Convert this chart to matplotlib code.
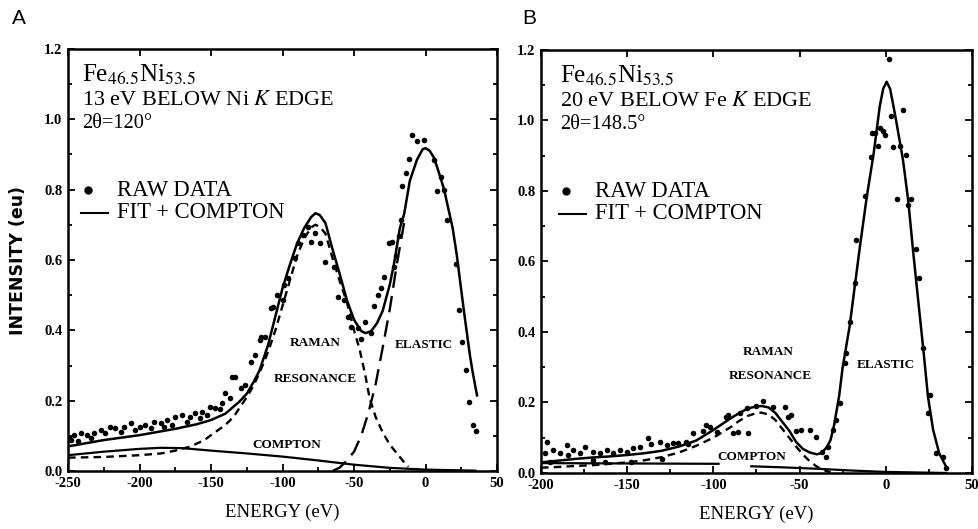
import numpy as np
import matplotlib
matplotlib.use("Agg")
from matplotlib import pyplot as plt
from matplotlib.ticker import MultipleLocator

plt.rcParams['font.family'] = ['Liberation Serif', 'DejaVu Serif']
plt.rcParams['mathtext.fontset'] = 'stix'

# ---- panel A : 13 eV below Ni K edge ----
a_raw_x = [-249, -248, -246, -243, -241, -237, -234, -232, -227, -224, -221, -217,
           -213, -211, -206, -203, -200, -196, -192, -190, -185, -183, -181, -177,
           -175, -170, -167, -165, -161, -158, -156, -153, -151, -147, -144, -142,
           -140, -137, -135, -133, -129, -126, -122, -119, -116, -115, -112, -108,
           -107, -104, -100, -99, -96, -91, -89, -86, -82, -80, -77, -74, -70, -64,
           -61, -57, -54, -52, -47, -45, -42, -38, -36, -33, -31, -29, -25.5, -23.2,
           -22, -20.8, -18.5, -17.3, -16.2, -13.8, -11.5, -9.2, -5.7, -1, 5.9, 8.3,
           10.6, 12.9, 15.2, 21.1, 23.4, 25.8, 28.1, 30.4, 33.2, 35.5]
a_raw_y = [0.098, 0.088, 0.102, 0.085, 0.107, 0.102, 0.095, 0.107, 0.117, 0.108, 0.126, 0.121,
           0.112, 0.126, 0.136, 0.118, 0.126, 0.131, 0.122, 0.140, 0.136, 0.126, 0.145, 0.132,
           0.155, 0.159, 0.140, 0.155, 0.164, 0.150, 0.169, 0.160, 0.183, 0.178, 0.175, 0.193,
           0.221, 0.207, 0.268, 0.268, 0.235, 0.245, 0.311, 0.330, 0.373, 0.382, 0.382, 0.463,
           0.467, 0.500, 0.486, 0.529, 0.548, 0.605, 0.648, 0.671, 0.693, 0.650, 0.676, 0.648, 0.595, 0.581,
           0.496, 0.486, 0.439, 0.410, 0.406, 0.375, 0.425, 0.392, 0.470, 0.500, 0.520, 0.553, 0.648, 0.652,
           0.581, 0.610, 0.667, 0.714, 0.810, 0.847, 0.887, 0.956, 0.937, 0.940, 0.885, 0.795,
           0.837, 0.800, 0.714, 0.590, 0.458, 0.368, 0.287, 0.197, 0.131, 0.115]

a_fit_x = [-250, -225, -200, -175, -160, -150, -140, -130, -125, -120, -116, -110, -105,
           -100, -95, -90, -85, -80, -77, -74, -70, -65, -60, -55, -50, -45, -42, -38,
           -34, -30, -25, -22, -18, -15, -11, -6, -2, 0, 3, 6, 10, 13, 16, 19, 22, 24,
           27, 29, 31, 33, 36]
a_fit_y = [0.070, 0.088, 0.102, 0.120, 0.133, 0.145, 0.163, 0.198, 0.220, 0.255, 0.287, 0.360, 0.440,
           0.520, 0.585, 0.645, 0.690, 0.722, 0.733, 0.728, 0.705, 0.630, 0.560, 0.486, 0.430, 0.398, 0.392, 0.398,
           0.420, 0.455, 0.530, 0.590, 0.690, 0.730, 0.825, 0.885, 0.915, 0.918, 0.910, 0.890, 0.840, 0.800, 0.745, 0.690, 0.610, 0.545,
           0.450, 0.390, 0.330, 0.280, 0.215]

a_raman_x = [-250, -225, -200, -185, -175, -165, -155, -150, -140, -134, -130, -125, -120,
             -115, -110, -105, -100, -95, -90, -85, -80, -77, -74, -70, -65, -60, -55, -50,
             -46, -42, -39, -35, -30, -25, -20, -15, -12]
a_raman_y = [0.038, 0.040, 0.045, 0.050, 0.058, 0.069, 0.087, 0.102, 0.131, 0.155, 0.180, 0.210, 0.245,
             0.290, 0.340, 0.400, 0.470, 0.540, 0.610, 0.660, 0.693, 0.700, 0.695, 0.675, 0.605, 0.540, 0.480, 0.400,
             0.344, 0.270, 0.205, 0.155, 0.110, 0.075, 0.050, 0.025, 0.012]

a_elastic_x = [-65, -60, -55, -50, -45, -40, -35, -30, -25, -20, -15]
a_elastic_y = [0.0, 0.010, 0.030, 0.055, 0.100, 0.165, 0.245, 0.350, 0.460, 0.590, 0.705]

a_compton_x = [-250, -225, -200, -185, -170, -150, -125, -100, -75, -50, -25, 0, 35]
a_compton_y = [0.045, 0.055, 0.063, 0.066, 0.065, 0.058, 0.050, 0.041, 0.030, 0.018, 0.009, 0.004, 0.001]

# ---- panel B : 20 eV below Fe K edge ----
b_raw_x = [-197.7, -196.7, -195, -192.9, -189, -185.1, -184.2, -181.3, -177.4, -174.5, -170,
           -169.6, -165.8, -162.8, -161.9, -158, -154.2, -150.3, -148, -146.4, -142.6, -137.8,
           -135.9, -131, -130, -127.1, -123.3, -120.4, -115.6, -114.6, -111.7, -106, -104, -102,
           -98.1, -92.4, -91.4, -88.5, -85.6, -84.6, -80.7, -79.8, -75, -71, -65.3, -58.6, -56.6,
           -54.7, -52, -48.9, -44, -40.2, -37, -34.4, -33.4, -30.5, -28.6, -26.7, -23.8, -22.8,
           -20.9, -18, -17, -12.2, -8.3, -8.0, -6.4, -4.5, -3.5, -1.6, -0.6, 1.7, 3.3, 4.2, 6.6,
           8.1, 10, 12, 13, 14.9, 17.4, 19.3, 21.6, 24.5, 25.5, 29.4, 33.2, 35.2]
b_raw_y = [0.056, 0.089, 0.030, 0.065, 0.056, 0.079, 0.051, 0.065, 0.056, 0.073, 0.037,
           0.060, 0.056, 0.032, 0.065, 0.056, 0.065, 0.060, 0.030, 0.070, 0.075, 0.100,
           0.083, 0.089, 0.039, 0.079, 0.084, 0.086, 0.089, 0.083, 0.113, 0.118, 0.136, 0.131,
           0.117, 0.160, 0.165, 0.113, 0.117, 0.169, 0.184, 0.113, 0.190, 0.204, 0.188, 0.188, 0.160,
           0.165, 0.120, 0.122, 0.122, 0.103, 0.060, 0.046, 0.075, 0.122, 0.150, 0.198, 0.311, 0.340,
           0.429, 0.540, 0.661, 0.786, 0.897, 0.965, 0.964, 0.928, 0.978, 0.971, 0.959, 1.174, 1.013, 0.926, 0.776,
           0.928, 1.030, 0.902, 0.760, 0.776, 0.636, 0.554, 0.354, 0.169, 0.221, 0.056, 0.046, 0.013]

b_fit_x = [-200, -190, -180, -170, -160, -150, -140, -130, -120, -110, -100, -90, -85, -80,
           -75, -72, -68, -64, -60, -56, -52, -48, -44, -40, -37, -34, -32, -30, -27, -25,
           -21, -18, -15, -11, -7, -3.5, -1.5, 0.5, 2.5, 4.5, 6, 10, 13, 16, 19, 22, 24.5,
           27.5, 31, 35]
b_fit_y = [0.030, 0.035, 0.040, 0.044, 0.047, 0.051, 0.056, 0.063, 0.075, 0.092, 0.122, 0.155, 0.170, 0.183,
           0.189, 0.190, 0.186, 0.170, 0.145, 0.120, 0.088, 0.068, 0.058, 0.053, 0.057, 0.075, 0.094, 0.135, 0.220, 0.300,
           0.415, 0.529, 0.642, 0.784, 0.907, 1.040, 1.090, 1.110, 1.090, 1.040, 1.000, 0.888, 0.774, 0.623, 0.481, 0.340, 0.216,
           0.122, 0.056, 0.018]

b_raman_x = [-200, -190, -180, -170, -160, -150, -140, -130, -120, -110, -100, -90, -85, -80,
             -75, -72, -68, -64, -60, -56, -52, -48, -44, -40, -36, -32]
b_raman_y = [0.015, 0.017, 0.020, 0.022, 0.026, 0.030, 0.036, 0.045, 0.058, 0.077, 0.100, 0.130, 0.148, 0.162,
             0.170, 0.171, 0.166, 0.150, 0.125, 0.100, 0.075, 0.052, 0.033, 0.018, 0.008, 0.002]

b_compton_x = [-200, -150, -97, -90, -78, -60, -40, -20, 0, 35]
b_compton_y = [0.028, 0.027, 0.026, np.nan, 0.019, 0.016, 0.012, 0.007, 0.003, 0.0]

tickfont = dict(family='Liberation Serif', weight='bold', size=10.5)
lblfont = dict(family='Liberation Serif', weight='bold', size=9.5)


def style_axes(ax, xmin, xmax):
    ax.set_xlim(xmin, xmax)
    ax.set_ylim(0, 1.2)
    ax.xaxis.set_minor_locator(MultipleLocator(25))
    ax.yaxis.set_minor_locator(MultipleLocator(0.1))
    ax.tick_params(which='both', direction='in', top=True, right=True, width=1.3)
    ax.tick_params(which='major', length=5, pad=4)
    ax.tick_params(which='minor', length=3, top=False)
    yt = np.arange(0, 1.21, 0.2)
    ax.set_yticks(yt)
    ax.set_yticklabels(['%.1f' % v for v in yt], **tickfont)
    xt = np.arange(xmin, xmax + 1, 50)
    ax.set_xticks(xt)
    ax.set_xticklabels(['%d' % v for v in xt], **tickfont)
    for s in ax.spines.values():
        s.set_linewidth(1.8)
    ax.set_xlabel('ENERGY (eV)', fontsize=13.5, family='Liberation Serif', labelpad=10)


def header(ax, formula, line1, line2, lx, dx):
    ax.text(lx, 0.922, formula, transform=ax.transAxes, fontsize=18, va='baseline')
    ax.text(lx, 0.867, line1, transform=ax.transAxes, fontsize=16, va='baseline')
    ax.text(lx, 0.813, line2, transform=ax.transAxes, fontsize=14.7, va='baseline')
    # hand-made legend
    ax.plot([lx + 0.014], [0.666], 'o', color='k', ms=5, transform=ax.transAxes)
    ax.text(lx + dx, 0.652, 'RAW DATA', transform=ax.transAxes, fontsize=16.3, va='baseline')
    ax.plot([lx - 0.003, lx + 0.060], [0.612, 0.612], '-', color='k', lw=1.5,
            transform=ax.transAxes)
    ax.text(lx + dx, 0.600, 'FIT + COMPTON', transform=ax.transAxes, fontsize=16.3, va='baseline')


fig = plt.figure(figsize=(9.79, 5.29), dpi=100)
axA = fig.add_axes([0.0695, 0.1096, 0.4382, 0.7978])
axB = fig.add_axes([0.5526, 0.1059, 0.4402, 0.7996])

# panel A
axA.plot(a_raw_x, a_raw_y, 'o', color='k', ms=4, mec='none')
axA.plot(a_fit_x, a_fit_y, '-', color='k', lw=1.8)
axA.plot(a_raman_x, a_raman_y, color='k', lw=1.7, ls=(0, (3.2, 2.2)))
axA.plot(a_elastic_x, a_elastic_y, color='k', lw=1.7, ls=(0, (7, 3.5)))
axA.plot(a_compton_x, a_compton_y, '-', color='k', lw=1.6)
style_axes(axA, -250, 50)
axA.set_ylabel('INTENSITY (eu)', family='DejaVu Sans', weight='bold', fontsize=12.5, labelpad=12)
header(axA, 'Fe$_{\\mathrm{46.5}}$Ni$_{\\mathrm{53.5}}$', '13 eV BELOW Ni $\\mathit{K}$ EDGE',
       '2θ=120°', 0.033, 0.082)
axA.text(-77, 0.363, 'RAMAN', ha='center', va='center', **lblfont)
axA.text(-77, 0.261, 'RESONANCE', ha='center', va='center', **lblfont)
axA.text(-1, 0.357, 'ELASTIC', ha='center', va='center', **lblfont)
axA.text(-97, 0.075, 'COMPTON', ha='center', va='center', **lblfont)

# panel B
axB.plot(b_raw_x, b_raw_y, 'o', color='k', ms=4, mec='none')
axB.plot(b_fit_x, b_fit_y, '-', color='k', lw=1.8)
axB.plot(b_raman_x, b_raman_y, color='k', lw=1.7, ls=(0, (3.2, 2.2)))
axB.plot(b_compton_x, b_compton_y, '-', color='k', lw=1.6)
style_axes(axB, -200, 50)
header(axB, 'Fe$_{\\mathrm{46.5}}$Ni$_{\\mathrm{53.5}}$', '20 eV BELOW Fe $\\mathit{K}$ EDGE',
       '2θ=148.5°', 0.044, 0.081)
axB.text(-68, 0.342, 'RAMAN', ha='center', va='center', **lblfont)
axB.text(-67, 0.276, 'RESONANCE', ha='center', va='center', **lblfont)
axB.text(0, 0.305, 'ELASTIC', ha='center', va='center', **lblfont)
axB.text(-78, 0.044, 'COMPTON', ha='center', va='center', **lblfont)

fig.text(12 / 979, 1 - 24 / 529, 'A', family='Liberation Sans', fontsize=15, va='baseline')
fig.text(522 / 979, 1 - 24 / 529, 'B', family='Liberation Sans', fontsize=15, va='baseline')

fig.savefig('out.png', dpi=100, facecolor='white')
